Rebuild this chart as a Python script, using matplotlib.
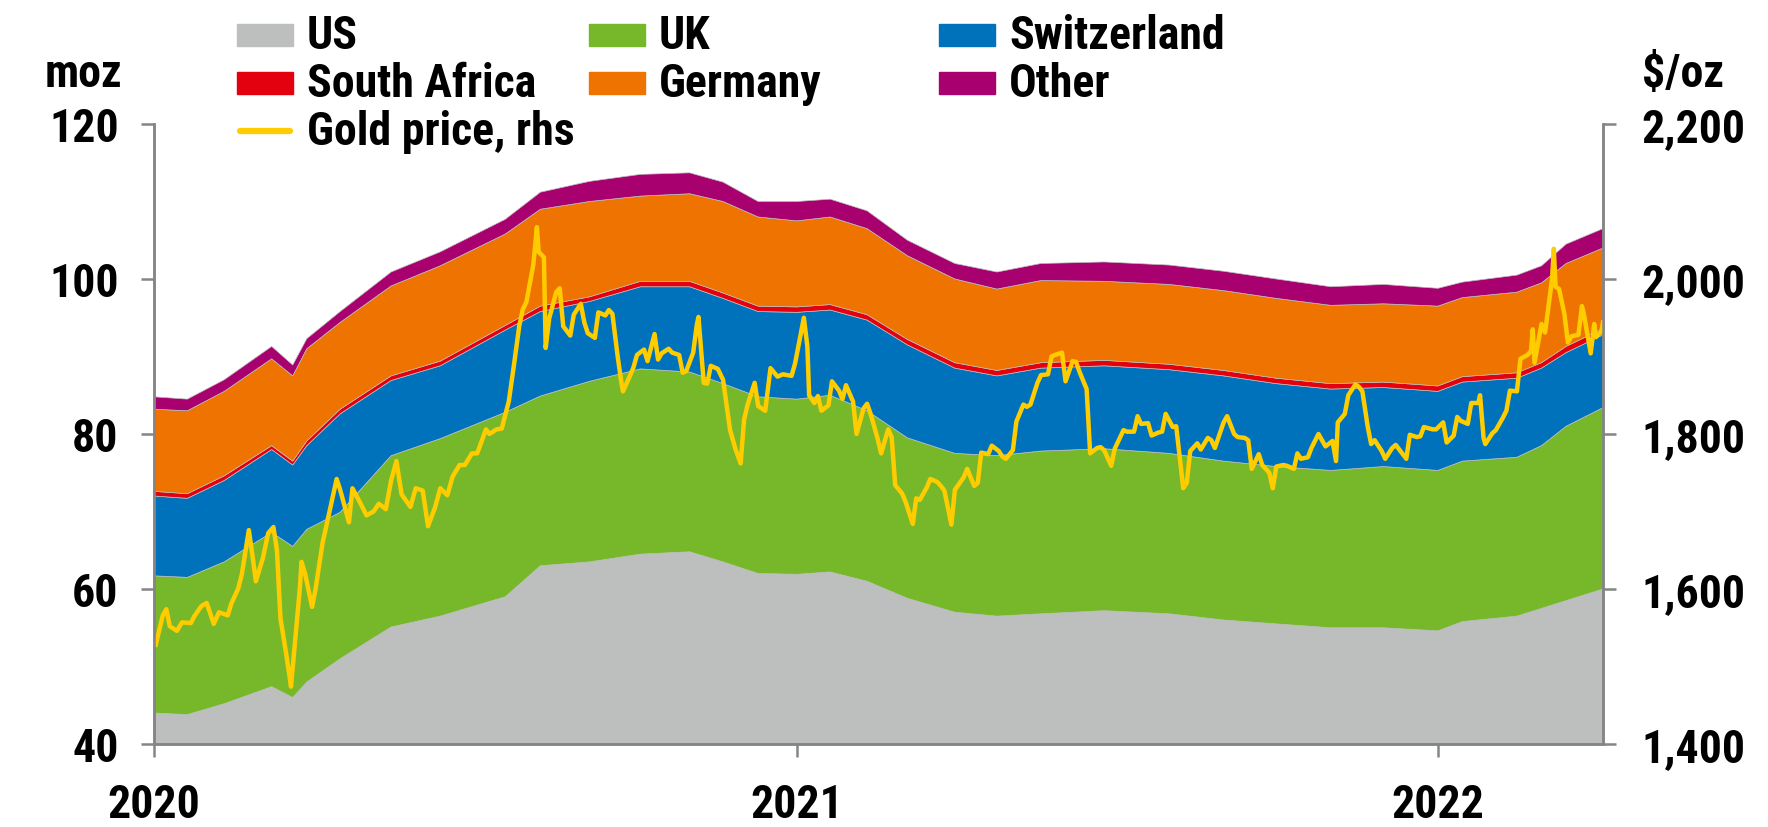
import matplotlib
matplotlib.use("Agg")
import matplotlib.pyplot as plt
import matplotlib.ticker as mticker
from matplotlib.patches import Rectangle
from matplotlib.lines import Line2D
import pandas as pd

plt.rcParams["font.family"] = ["Roboto Condensed", "DejaVu Sans"]
plt.rcParams["font.weight"] = "bold"

# holdings by country (moz)
dates = ["2020-01-01", "2020-01-20", "2020-02-10", "2020-03-08", "2020-03-20",
         "2020-03-28", "2020-04-16", "2020-05-15", "2020-06-12", "2020-07-19",
         "2020-08-08", "2020-09-05", "2020-10-04", "2020-11-01", "2020-11-20",
         "2020-12-10", "2021-01-01", "2021-01-20", "2021-02-10", "2021-03-05",
         "2021-04-01", "2021-04-25", "2021-05-20", "2021-06-25", "2021-08-01",
         "2021-09-01", "2021-10-01", "2021-11-01", "2021-12-01", "2022-01-01",
         "2022-01-15", "2022-02-15", "2022-03-01", "2022-03-15", "2022-04-05"]
us = [44.0, 43.8, 45.2, 47.4, 46.0, 48.0, 51.0, 55.1, 56.5, 59.0,
      63.0, 63.5, 64.5, 64.8, 63.5, 62.0, 61.9, 62.2, 61.0, 58.8,
      57.0, 56.5, 56.8, 57.2, 56.8, 56.0, 55.5, 55.0, 55.0, 54.6,
      55.8, 56.5, 57.5, 58.5, 60.0]
uk = [17.7, 17.7, 18.3, 19.9, 19.5, 19.7, 18.9, 22.1, 22.9, 23.8,
      21.9, 23.3, 23.9, 23.2, 23.0, 22.8, 22.6, 22.8, 22.0, 20.7,
      20.5, 20.7, 21.0, 20.9, 20.7, 20.5, 20.3, 20.3, 20.8, 20.7,
      20.7, 20.5, 21.0, 22.5, 23.4]
switzerland = [10.3, 10.2, 10.5, 10.7, 10.5, 10.8, 12.7, 9.7, 9.4, 10.6,
               10.9, 10.3, 10.6, 11.0, 11.0, 11.0, 11.2, 11.0, 11.7, 12.0,
               11.0, 10.3, 10.7, 10.7, 10.8, 11.0, 10.7, 10.5, 10.2, 10.2,
               10.2, 10.2, 10.0, 9.5, 9.4]
south_africa = [0.6, 0.6, 0.6, 0.5, 0.5, 0.6, 0.6, 0.6, 0.6, 0.6,
                0.7, 0.6, 0.7, 0.7, 0.7, 0.7, 0.7, 0.7, 0.7, 0.7,
                0.7, 0.7, 0.7, 0.7, 0.7, 0.7, 0.7, 0.7, 0.7, 0.7,
                0.7, 0.7, 0.7, 0.8, 0.8]
germany = [10.6, 10.7, 10.9, 11.2, 11.0, 11.9, 11.2, 11.6, 12.3, 11.8,
           12.5, 12.3, 11.0, 11.3, 11.8, 11.5, 11.1, 11.3, 11.1, 10.8,
           10.8, 10.5, 10.6, 10.2, 10.3, 10.3, 10.3, 10.1, 10.1, 10.3,
           10.2, 10.4, 10.3, 10.7, 10.4]
other = [1.6, 1.5, 1.5, 1.6, 1.4, 1.3, 1.4, 1.8, 1.8, 1.9,
         2.2, 2.6, 2.8, 2.7, 2.5, 2.0, 2.5, 2.3, 2.3, 2.0,
         2.0, 2.2, 2.2, 2.5, 2.5, 2.5, 2.5, 2.4, 2.5, 2.3,
         2.0, 2.2, 2.2, 2.5, 2.5]

# gold price ($/oz)
gold_dates = [
    "2020-01-02", "2020-01-06", "2020-01-08", "2020-01-10", "2020-01-14", "2020-01-17",
    "2020-01-22", "2020-01-24", "2020-01-28", "2020-01-31", "2020-02-04", "2020-02-07",
    "2020-02-12", "2020-02-14", "2020-02-18", "2020-02-20", "2020-02-24", "2020-02-26",
    "2020-02-28", "2020-03-03", "2020-03-06", "2020-03-09", "2020-03-11", "2020-03-13",
    "2020-03-16", "2020-03-18", "2020-03-19", "2020-03-20", "2020-03-24", "2020-03-25",
    "2020-03-27", "2020-03-31", "2020-04-02", "2020-04-06", "2020-04-08", "2020-04-14",
    "2020-04-16", "2020-04-21", "2020-04-23", "2020-04-27", "2020-05-01", "2020-05-05",
    "2020-05-08", "2020-05-12", "2020-05-15", "2020-05-18", "2020-05-21", "2020-05-26",
    "2020-05-29", "2020-06-02", "2020-06-05", "2020-06-09", "2020-06-12", "2020-06-16",
    "2020-06-19", "2020-06-23", "2020-06-26", "2020-06-30", "2020-07-03", "2020-07-08",
    "2020-07-10", "2020-07-14", "2020-07-17", "2020-07-21", "2020-07-24", "2020-07-27",
    "2020-07-29", "2020-07-31", "2020-08-04", "2020-08-06", "2020-08-07", "2020-08-10",
    "2020-08-11", "2020-08-13", "2020-08-17", "2020-08-19", "2020-08-21", "2020-08-25",
    "2020-08-27", "2020-08-31", "2020-09-02", "2020-09-04", "2020-09-08", "2020-09-10",
    "2020-09-14", "2020-09-16", "2020-09-18", "2020-09-21", "2020-09-23", "2020-09-24",
    "2020-09-28", "2020-09-30", "2020-10-02", "2020-10-06", "2020-10-08", "2020-10-12",
    "2020-10-14", "2020-10-16", "2020-10-20", "2020-10-22", "2020-10-26", "2020-10-28",
    "2020-10-30", "2020-11-03", "2020-11-05", "2020-11-06", "2020-11-09", "2020-11-11",
    "2020-11-13", "2020-11-17", "2020-11-20", "2020-11-24", "2020-11-27", "2020-11-30",
    "2020-12-02", "2020-12-04", "2020-12-08", "2020-12-10", "2020-12-14", "2020-12-17",
    "2020-12-21", "2020-12-24", "2020-12-29", "2020-12-31",
    "2021-01-05", "2021-01-07", "2021-01-08", "2021-01-11", "2021-01-13", "2021-01-15",
    "2021-01-19", "2021-01-21", "2021-01-25", "2021-01-27", "2021-01-29", "2021-02-02",
    "2021-02-04", "2021-02-08", "2021-02-10", "2021-02-12", "2021-02-16", "2021-02-18",
    "2021-02-22", "2021-02-24", "2021-02-26", "2021-03-02", "2021-03-04", "2021-03-08",
    "2021-03-10", "2021-03-12", "2021-03-16", "2021-03-18", "2021-03-22", "2021-03-24",
    "2021-03-26", "2021-03-30", "2021-04-01", "2021-04-06", "2021-04-08", "2021-04-12",
    "2021-04-14", "2021-04-16", "2021-04-20", "2021-04-22", "2021-04-26", "2021-04-28",
    "2021-04-30", "2021-05-04", "2021-05-06", "2021-05-10", "2021-05-12", "2021-05-14",
    "2021-05-18", "2021-05-20", "2021-05-24", "2021-05-26", "2021-05-28", "2021-06-01",
    "2021-06-03", "2021-06-07", "2021-06-09", "2021-06-11", "2021-06-15", "2021-06-17",
    "2021-06-21", "2021-06-23", "2021-06-25", "2021-06-29", "2021-07-01", "2021-07-06",
    "2021-07-08", "2021-07-12", "2021-07-14", "2021-07-16", "2021-07-20", "2021-07-22",
    "2021-07-26", "2021-07-28", "2021-07-30", "2021-08-03", "2021-08-05", "2021-08-09",
    "2021-08-11", "2021-08-13", "2021-08-17", "2021-08-19", "2021-08-23", "2021-08-25",
    "2021-08-27", "2021-09-01", "2021-09-03", "2021-09-07", "2021-09-09", "2021-09-13",
    "2021-09-15", "2021-09-17", "2021-09-21", "2021-09-23", "2021-09-27", "2021-09-29",
    "2021-10-01", "2021-10-05", "2021-10-07", "2021-10-11", "2021-10-13", "2021-10-15",
    "2021-10-19", "2021-10-21", "2021-10-25", "2021-10-27", "2021-10-29", "2021-11-02",
    "2021-11-04", "2021-11-05", "2021-11-09", "2021-11-11", "2021-11-15", "2021-11-17",
    "2021-11-19", "2021-11-22", "2021-11-24", "2021-11-26", "2021-11-30", "2021-12-02",
    "2021-12-06", "2021-12-08", "2021-12-10", "2021-12-14", "2021-12-16", "2021-12-20",
    "2021-12-22", "2021-12-24", "2021-12-29", "2021-12-31",
    "2022-01-04", "2022-01-06", "2022-01-10", "2022-01-12", "2022-01-14", "2022-01-18",
    "2022-01-20", "2022-01-24", "2022-01-25", "2022-01-27", "2022-01-28", "2022-02-01",
    "2022-02-03", "2022-02-07", "2022-02-09", "2022-02-11", "2022-02-15", "2022-02-17",
    "2022-02-21", "2022-02-23", "2022-02-24", "2022-02-25", "2022-03-01", "2022-03-03",
    "2022-03-07", "2022-03-08", "2022-03-09", "2022-03-11", "2022-03-14", "2022-03-16",
    "2022-03-18", "2022-03-22", "2022-03-24", "2022-03-25", "2022-03-29", "2022-03-31",
    "2022-04-01", "2022-04-04", "2022-04-05"]
gold_price = [
    1528, 1566, 1574, 1552, 1546, 1557, 1556, 1565, 1578, 1582, 1555, 1570,
    1566, 1581, 1601, 1619, 1676, 1644, 1610, 1640, 1672, 1680, 1650, 1562,
    1520, 1490, 1474, 1499, 1600, 1635, 1620, 1577, 1600, 1660, 1680, 1742,
    1728, 1686, 1730, 1713, 1695, 1700, 1710, 1703, 1740, 1765, 1722, 1706,
    1730, 1727, 1681, 1705, 1730, 1721, 1745, 1760, 1760, 1775, 1775, 1806,
    1800, 1806, 1807, 1842, 1890, 1940, 1961, 1970, 2019, 2067, 2035, 2028,
    1911, 1949, 1983, 1988, 1939, 1927, 1954, 1968, 1944, 1930, 1924, 1957,
    1953, 1960, 1955, 1900, 1868, 1855, 1875, 1886, 1902, 1909, 1894, 1929,
    1896, 1904, 1910, 1905, 1902, 1879, 1881, 1905, 1940, 1951, 1866, 1865,
    1888, 1884, 1870, 1805, 1781, 1762, 1819, 1838, 1866, 1836, 1830, 1885,
    1874, 1877, 1875, 1891,
    1950, 1913, 1850, 1840, 1849, 1830, 1837, 1868, 1856, 1845, 1863, 1842,
    1800, 1833, 1839, 1826, 1794, 1775, 1806, 1796, 1734, 1723, 1712, 1684,
    1717, 1715, 1731, 1742, 1738, 1733, 1727, 1683, 1728, 1744, 1755, 1733,
    1737, 1776, 1774, 1785, 1778, 1771, 1768, 1779, 1816, 1838, 1835, 1838,
    1866, 1876, 1877, 1900, 1902, 1905, 1868, 1894, 1893, 1880, 1858, 1775,
    1782, 1783, 1779, 1759, 1781, 1805, 1803, 1803, 1823, 1813, 1814, 1798,
    1802, 1803, 1826, 1809, 1810, 1730, 1737, 1778, 1788, 1780, 1795, 1792,
    1782, 1815, 1823, 1800, 1796, 1795, 1792, 1755, 1774, 1760, 1750, 1730,
    1758, 1760, 1759, 1755, 1775, 1768, 1770, 1782, 1800, 1792, 1784, 1791,
    1765, 1815, 1826, 1850, 1864, 1861, 1855, 1810, 1787, 1792, 1778, 1768,
    1782, 1786, 1780, 1768, 1799, 1796, 1797, 1809, 1806, 1806,
    1815, 1789, 1798, 1822, 1817, 1813, 1840, 1840, 1850, 1795, 1787, 1801,
    1805, 1821, 1830, 1856, 1855, 1897, 1902, 1907, 1935, 1892, 1942, 1931,
    2000, 2039, 1990, 1987, 1955, 1918, 1926, 1928, 1965, 1956, 1904, 1942,
    1925, 1932, 1944]

labels = ["US", "UK", "Switzerland", "South Africa", "Germany", "Other"]
colors = ["#BDBFBE", "#77B82A", "#0072BC", "#E3000F", "#EF7300", "#A8006F"]
gold_color = "#FFCC00"
grey = "#858585"
fs = 33

x = pd.to_datetime(dates)
gx = pd.to_datetime(gold_dates)

fig = plt.figure(figsize=(17.68, 8.28), dpi=100)
ax = fig.add_axes([154 / 1768, 83 / 828, 1449 / 1768, 620 / 828])
ax.stackplot(x, us, uk, switzerland, south_africa, germany, other,
             colors=colors, linewidth=0.5, edgecolors=colors)
ax.set_ylim(40, 120)
ax.set_yticks([40, 60, 80, 100, 120])
ax.set_xlim(pd.Timestamp("2020-01-01"), pd.Timestamp("2022-04-05"))
ax.set_xticks(pd.to_datetime(["2020-01-01", "2021-01-01", "2022-01-01"]))
ax.set_xticklabels(["2020", "2021", "2022"])

ax2 = ax.twinx()
ax2.plot(gx, gold_price, color=gold_color, lw=3.2, solid_joinstyle="round")
ax2.set_ylim(1400, 2200)
ax2.set_yticks([1400, 1600, 1800, 2000, 2200])
ax2.yaxis.set_major_formatter(mticker.FuncFormatter(lambda v, p: f"{v:,.0f}"))

for a in (ax, ax2):
    a.spines["top"].set_visible(False)
    for s in ("left", "right", "bottom"):
        a.spines[s].set_color(grey)
        a.spines[s].set_linewidth(1.8)
    a.tick_params(length=9.5, width=1.8, color=grey, labelsize=fs)
ax.tick_params(axis="y", pad=16)
ax.tick_params(axis="x", pad=18)
ax2.tick_params(axis="y", pad=18)

fig.text(45 / 1768, 1 - 87 / 828, "moz", fontsize=fs, ha="left", va="baseline")
fig.text(1642 / 1768, 1 - 87 / 828, "$/oz", fontsize=fs, ha="left", va="baseline")

# legend laid out on a fixed grid like the original
W, H = 1768, 828
col_x = [237, 589, 939]
row_y = [36, 84, 132]
order = [(0, 0, 0), (1, 0, 1), (2, 0, 2), (3, 1, 0), (4, 1, 1), (5, 1, 2)]
for i, r, c in order:
    fig.patches.append(Rectangle((col_x[c] / W, 1 - (row_y[r] + 11) / H), 56 / W, 22 / H,
                                 transform=fig.transFigure, color=colors[i]))
    fig.text((col_x[c] + 70) / W, 1 - row_y[r] / H, labels[i], fontsize=fs,
             ha="left", va="center")
fig.lines.append(Line2D([(col_x[0] + 3) / W, (col_x[0] + 53) / W],
                        [1 - row_y[2] / H, 1 - row_y[2] / H], transform=fig.transFigure,
                        color=gold_color, lw=4.5, solid_capstyle="round"))
fig.text((col_x[0] + 70) / W, 1 - row_y[2] / H, "Gold price, rhs", fontsize=fs,
         ha="left", va="center")

fig.savefig("out.png", dpi=100)
